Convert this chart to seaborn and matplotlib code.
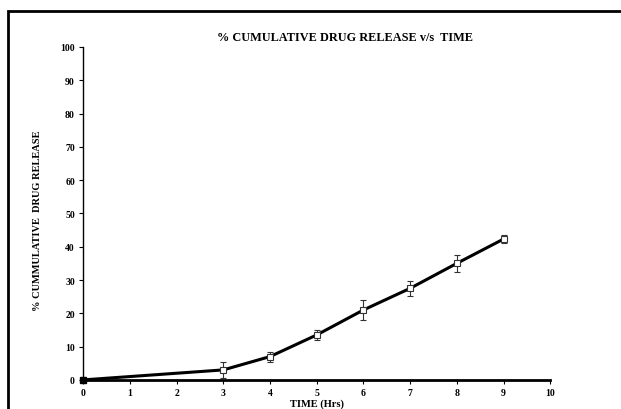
import numpy as np
import pandas as pd
import matplotlib
matplotlib.use("Agg")
import matplotlib.pyplot as plt
from matplotlib.patches import Rectangle
import seaborn as sns

time_hrs = [0, 3, 4, 5, 6, 7, 8, 9]
release = [0.0, 3.0, 7.0, 13.5, 21.0, 27.5, 35.0, 42.3]
release_sd = [0.0, 2.4, 1.5, 1.5, 3.0, 2.3, 2.5, 1.2]

sns.set_theme(style="white")
plt.rcParams["font.family"] = ["Liberation Serif", "DejaVu Serif"]
plt.rcParams["text.color"] = "black"
plt.rcParams["axes.labelcolor"] = "black"

df = pd.DataFrame({"TIME": time_hrs, "REL": release, "SD": release_sd})

fig = plt.figure(figsize=(6.21, 4.10), dpi=100)
ax = fig.add_axes([0.134, 0.071, 0.752, 0.812])

ax.errorbar(df["TIME"], df["REL"], yerr=df["SD"], fmt="none", ecolor="#333333",
            elinewidth=0.8, capsize=2, capthick=0.8, zorder=2)
sns.lineplot(data=df, x="TIME", y="REL", ax=ax, color="black", lw=2.2, zorder=3)
ax.plot(df["TIME"][1:], df["REL"][1:], ls="none", marker="s", ms=5,
        mfc="white", mec="#333333", mew=0.8, zorder=4)
ax.plot(df["TIME"][:1], df["REL"][:1], ls="none", marker="s", ms=4,
        color="black", zorder=4, clip_on=False)

ax.set_xlim(0, 10); ax.set_ylim(0, 100)
ax.set_xticks(range(0, 11)); ax.set_yticks(range(0, 101, 10))
for s in ["top", "right"]:
    ax.spines[s].set_visible(False)
ax.spines["left"].set_linewidth(1.0)
ax.spines["bottom"].set_linewidth(2.0)
for s in ["left", "bottom"]:
    ax.spines[s].set_color("black")
ax.tick_params(axis="both", direction="out", length=3, width=0.8, labelsize=7,
               colors="black", left=True, bottom=True, pad=3)
for lab in ax.get_xticklabels() + ax.get_yticklabels():
    lab.set_fontweight("bold")

ax.set_xlabel("TIME (Hrs)", fontsize=7.5, fontweight="bold", labelpad=1, color="black")
ax.set_ylabel("% CUMMULATIVE  DRUG RELEASE", fontsize=7.5, fontweight="bold", color="black")
ax.yaxis.set_label_coords(-0.088, 0.48)
fig.text(0.556, 0.907, "% CUMULATIVE DRUG RELEASE v/s  TIME", ha="center",
         va="center", fontsize=8.8, fontweight="bold", color="black")

fig.patches.append(Rectangle((8 / 621, -0.1), 1.2, 1.1 - 12 / 410,
                             transform=fig.transFigure, fill=False,
                             ec="black", lw=2))

fig.savefig("out.png", dpi=100)
